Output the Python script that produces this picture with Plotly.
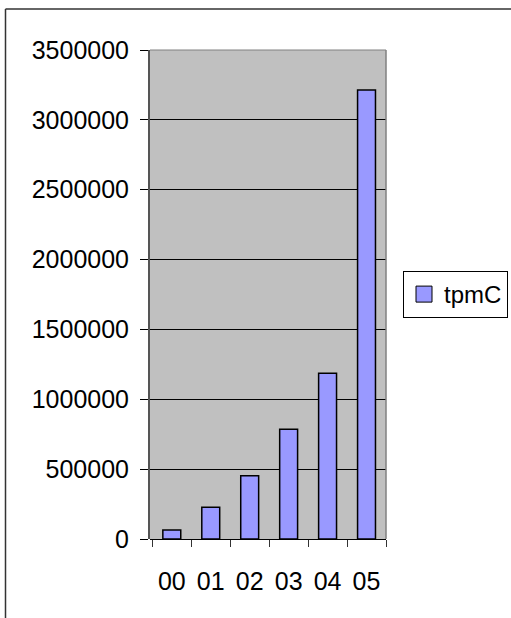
import plotly.graph_objects as go

categories = ["00", "01", "02", "03", "04", "05"]
tpmc = [64000, 227000, 453000, 785000, 1186000, 3214000]
y_ticks = [0, 500000, 1000000, 1500000, 2000000, 2500000, 3000000, 3500000]
series_name = "tpmC"

W, H = 511, 618
L, R, T, B = 150, 386, 50, 539

def px(x):
    return (x - L) / (R - L)

def py(y):
    return (B - y) / (B - T)

FONT = "Liberation Sans, Arial, sans-serif"
BAR_COLOR = "#9999ff"

fig = go.Figure()
fig.add_trace(go.Bar(
    x=categories, y=tpmc, name=series_name,
    marker=dict(color=BAR_COLOR, line=dict(color="#000000", width=1.5)),
    showlegend=False, legendgroup="s",
))
# legend entry for the bar series (larger square swatch)
fig.add_trace(go.Scatter(
    x=[categories[0]], y=[None], name=series_name, mode="markers",
    marker=dict(symbol="square", size=16, color=BAR_COLOR,
                line=dict(color="#000000", width=1)),
    showlegend=True, legendgroup="s", hoverinfo="skip",
))

fig.update_layout(
    width=W, height=H,
    margin=dict(l=L, r=W - R, t=T, b=H - B, pad=0, autoexpand=False),
    paper_bgcolor="white",
    plot_bgcolor="#c0c0c0",
    bargap=0.54,
    font=dict(family=FONT, size=25, color="black"),
    showlegend=True,
    legend=dict(
        x=px(403), y=py(294.5), xanchor="left", yanchor="middle",
        bordercolor="#000000", borderwidth=1, bgcolor="white",
        font=dict(family=FONT, size=24, color="black"),
        itemwidth=30,
    ),
    xaxis=dict(
        type="category",
        showgrid=False,
        ticks="outside", ticklen=7, tickcolor="#333333", tickwidth=1,
        tickson="boundaries",
        showline=False,
        tickangle=0,
        ticklabelstandoff=25,
        tickfont=dict(family=FONT, size=25),
    ),
    yaxis=dict(
        range=[0, 3500000],
        tickvals=y_ticks,
        ticktext=[str(v) for v in y_ticks],
        showgrid=True, gridcolor="#000000", gridwidth=1,
        zeroline=True, zerolinecolor="#000000", zerolinewidth=1,
        ticks="outside", ticklen=8, tickcolor="#000000", tickwidth=1,
        showline=True, linecolor="#555555", linewidth=2,
        ticklabelstandoff=6,
        tickfont=dict(family=FONT, size=25),
    ),
)

# plot area border (top and right) in gray
fig.add_shape(type="line", xref="paper", yref="paper", x0=0, x1=1, y0=1, y1=1,
              line=dict(color="#808080", width=1))
fig.add_shape(type="line", xref="paper", yref="paper", x0=1, x1=1, y0=0, y1=1,
              line=dict(color="#808080", width=1.5))

# outer chart frame (left and top edges)
fig.add_shape(type="line", xref="paper", yref="paper",
              x0=px(5.5), x1=px(5.5), y0=py(9), y1=py(H + 20),
              line=dict(color="#333333", width=1.5))
fig.add_shape(type="line", xref="paper", yref="paper",
              x0=px(5.5), x1=px(W + 20), y0=py(9), y1=py(9),
              line=dict(color="#333333", width=1.5))

fig.write_html("out.html")
